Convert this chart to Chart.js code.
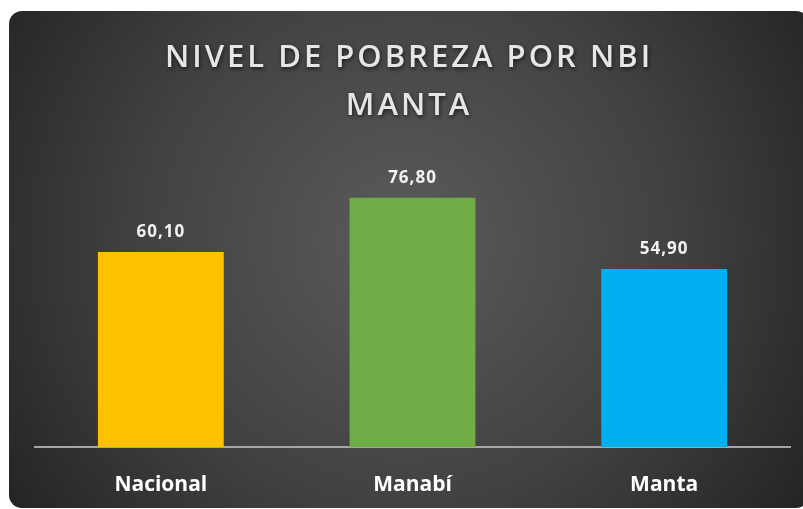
<!DOCTYPE html>
<html>
<head>
<meta charset="utf-8">
<script src="https://cdn.jsdelivr.net/npm/chart.js@4"></script>
<style>
  html, body { margin: 0; padding: 0; background: #ffffff; }
  #wrap { width: 803px; height: 509px; }
</style>
</head>
<body>
<div id="wrap"><canvas id="chart" width="803" height="509"></canvas></div>
<script>
// chart data
const categories = ['Nacional', 'Manabí', 'Manta'];
const values = [60.10, 76.80, 54.90];
const barColors = ['#FFC000', '#70AD47', '#00B0F0'];
const titleLines = ['NIVEL DE POBREZA POR NBI', 'MANTA'];

// dark rounded panel with radial shading
const panelBackground = {
    id: 'panelBackground',
    beforeDraw(chart) {
        const ctx = chart.ctx;
        const x = 9, y = 11, w = 800, h = 497, r = 13;
        ctx.save();
        const grad = ctx.createRadialGradient(405, 240, 10, 405, 240, 480);
        grad.addColorStop(0, '#5a5a5a');
        grad.addColorStop(0.55, '#414141');
        grad.addColorStop(1, '#242424');
        ctx.fillStyle = grad;
        ctx.beginPath();
        ctx.roundRect(x, y, w, h, r);
        ctx.fill();
        ctx.restore();
    }
};

// title drawn by hand so it can have letter spacing
const spacedTitle = {
    id: 'spacedTitle',
    afterDraw(chart) {
        const ctx = chart.ctx;
        ctx.save();
        ctx.font = '600 31px "Open Sans"';
        ctx.letterSpacing = '3px';
        ctx.textAlign = 'center';
        ctx.textBaseline = 'alphabetic';
        ctx.shadowColor = 'rgba(0,0,0,0.6)';
        ctx.shadowBlur = 4;
        ctx.shadowOffsetX = 1;
        ctx.shadowOffsetY = 2;
        ctx.fillStyle = '#e6e6e6';
        ctx.fillText(titleLines[0], 409, 67);
        ctx.fillText(titleLines[1], 409, 115);
        ctx.restore();
    }
};

// value labels above the bars, comma decimals
const valueLabels = {
    id: 'valueLabels',
    afterDatasetsDraw(chart) {
        const ctx = chart.ctx;
        const meta = chart.getDatasetMeta(0);
        ctx.save();
        ctx.font = 'bold 17px "Open Sans"';
        ctx.letterSpacing = '1px';
        ctx.fillStyle = '#f2f2f2';
        ctx.textAlign = 'center';
        ctx.textBaseline = 'alphabetic';
        meta.data.forEach((bar, i) => {
            const txt = values[i].toFixed(2).replace('.', ',');
            ctx.fillText(txt, bar.x, bar.y - 15);
        });
        ctx.restore();
    }
};

new Chart(document.getElementById('chart'), {
    type: 'bar',
    data: {
        labels: categories,
        datasets: [{
            data: values,
            backgroundColor: barColors,
            borderWidth: 0,
            barPercentage: 0.5,
            categoryPercentage: 1
        }]
    },
    options: {
        responsive: false,
        animation: false,
        layout: {
            padding: { left: 35, right: 13, top: 155, bottom: 0 }
        },
        plugins: {
            legend: { display: false },
            tooltip: { enabled: false },
            title: { display: false }
        },
        scales: {
            x: {
                grid: { display: false, drawTicks: false },
                border: { display: true, color: '#a6a6a6', width: 2 },
                ticks: {
                    color: '#ffffff',
                    padding: 25,
                    font: { family: 'Open Sans', size: 21, weight: 'bold' }
                },
                afterFit(scale) { scale.height = 62; }
            },
            y: {
                display: false,
                min: 0,
                max: 90
            }
        }
    },
    plugins: [panelBackground, valueLabels, spacedTitle]
});
</script>
</body>
</html>
